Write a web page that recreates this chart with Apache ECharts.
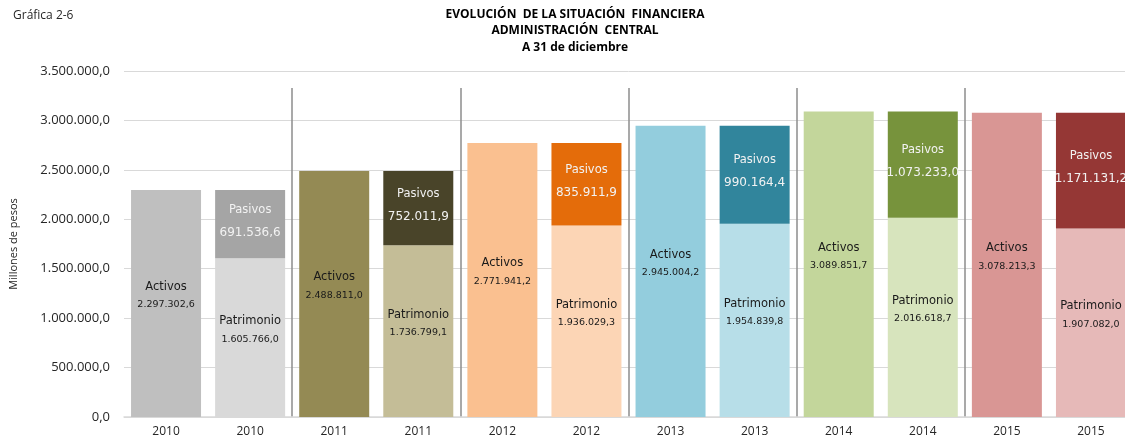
<!DOCTYPE html>
<html>
<head>
<meta charset="utf-8">
<script src="https://cdn.jsdelivr.net/npm/echarts@6/dist/echarts.min.js"></script>
<style>
  html, body { margin: 0; padding: 0; background: #fff; overflow: hidden; }
  /* el gráfico sobresale un poco por la derecha, como en el original */
  #chart { width: 1133px; height: 439px; }
</style>
</head>
<body>
<div id="chart"></div>
<script>
// datos (millones de pesos)
var years = ['2010', '2011', '2012', '2013', '2014', '2015']
var activos = [2297302.6, 2488811.0, 2771941.2, 2945004.2, 3089851.7, 3078213.3]
var patrimonio = [1605766.0, 1736799.1, 1936029.3, 1954839.8, 2016618.7, 1907082.0]
var pasivos = [691536.6, 752011.9, 835911.9, 990164.4, 1073233.0, 1171131.2]
var yTicks = [0, 500000, 1000000, 1500000, 2000000, 2500000, 3000000, 3500000]

// colores por año
var colActivos = ['#BFBFBF', '#948A54', '#FAC090', '#93CDDD', '#C3D69B', '#D99694']
var colPatrimonio = ['#D9D9D9', '#C4BD97', '#FCD5B5', '#B7DEE8', '#D7E4BD', '#E6B9B8']
var colPasivos = ['#A5A5A5', '#494429', '#E46C0A', '#31859C', '#77933C', '#953735']

var FONT = 'Open Sans'
var LABEL_FONT = 'DejaVu Sans' // más ancha, imita las etiquetas espaciadas del original

function fmt(v) {
  var parts = v.toFixed(1).split('.')
  return parts[0].replace(/\B(?=(\d{3})+(?!\d))/g, '.') + ',' + parts[1]
}

var cats = []
var baseData = []
var topData = []
years.forEach(function (y, i) {
  cats.push(y, y)
  baseData.push({ value: activos[i], kind: 'Activos', itemStyle: { color: colActivos[i] } })
  baseData.push({ value: patrimonio[i], kind: 'Patrimonio', itemStyle: { color: colPatrimonio[i] } })
  topData.push('-')
  topData.push({ value: pasivos[i], itemStyle: { color: colPasivos[i] } })
})

var chart = echarts.init(document.getElementById('chart'))
chart.setOption({
  animation: false,
  textStyle: { fontFamily: FONT },
  title: [{
    text: 'Gráfica 2-6',
    left: 8, top: 5,
    textStyle: { fontSize: 12, fontWeight: 'normal', color: '#262626', fontFamily: FONT }
  }, {
    text: 'EVOLUCIÓN  DE LA SITUACIÓN  FINANCIERA\nADMINISTRACIÓN  CENTRAL\nA 31 de diciembre',
    left: 570, top: 1, textAlign: 'center',
    textStyle: { fontSize: 12, fontWeight: 'bold', color: '#000', lineHeight: 16.5, fontFamily: FONT }
  }],
  grid: [
    { left: 124, right: 0, top: 71, bottom: 22 },
    { left: 124, right: 0, top: 88, bottom: 22 }
  ],
  xAxis: [{
    type: 'category',
    data: cats,
    axisTick: { show: false },
    axisLine: { lineStyle: { color: '#D9D9D9', width: 1.5 } },
    axisLabel: { color: '#262626', fontSize: 12, margin: 9, fontFamily: FONT }
  }, {
    type: 'category',
    gridIndex: 1,
    data: cats,
    axisTick: { show: false },
    axisLine: { show: false },
    axisLabel: { show: false },
    splitLine: {
      show: true,
      interval: function (index) { return index > 0 && index % 2 === 0 },
      lineStyle: { color: '#8C8C8C', width: 1.5 }
    }
  }],
  yAxis: [{
    type: 'value',
    min: 0, max: yTicks[yTicks.length - 1], interval: yTicks[1] - yTicks[0],
    name: 'Millones de pesos',
    nameLocation: 'middle',
    nameGap: 105,
    nameTextStyle: { fontSize: 11, color: '#262626', fontFamily: FONT },
    axisLine: { show: false },
    axisTick: { show: false },
    axisLabel: { color: '#262626', fontSize: 13, margin: 14, formatter: fmt, fontFamily: FONT },
    splitLine: { lineStyle: { color: '#D9D9D9', width: 1 } }
  }, {
    type: 'value',
    gridIndex: 1,
    show: false,
    splitLine: { show: false }
  }],
  series: [{
    name: 'base',
    type: 'bar',
    stack: 'total',
    barWidth: 70,
    data: baseData,
    label: {
      show: true,
      position: 'inside',
      offset: [0, -8],
      formatter: function (p) {
        return '{n|' + p.data.kind + '}\n{v|' + fmt(p.value) + '}'
      },
      rich: {
        n: { fontSize: 11.5, color: '#1a1a1a', fontFamily: LABEL_FONT, lineHeight: 19 },
        v: { fontSize: 9.5, color: '#1a1a1a', fontFamily: LABEL_FONT, lineHeight: 17 }
      }
    }
  }, {
    name: 'top',
    type: 'bar',
    stack: 'total',
    barWidth: 70,
    data: topData,
    label: {
      show: true,
      position: 'inside',
      offset: [0, -3],
      formatter: function (p) {
        return '{n|Pasivos}\n{v|' + fmt(p.value) + '}'
      },
      rich: {
        n: { fontSize: 11.5, color: '#F2F2F2', fontFamily: LABEL_FONT, lineHeight: 23 },
        v: { fontSize: 12, color: '#F2F2F2', fontFamily: LABEL_FONT, lineHeight: 23 }
      }
    }
  }, {
    type: 'bar',
    xAxisIndex: 1,
    yAxisIndex: 1,
    data: []
  }]
})
</script>
</body>
</html>
